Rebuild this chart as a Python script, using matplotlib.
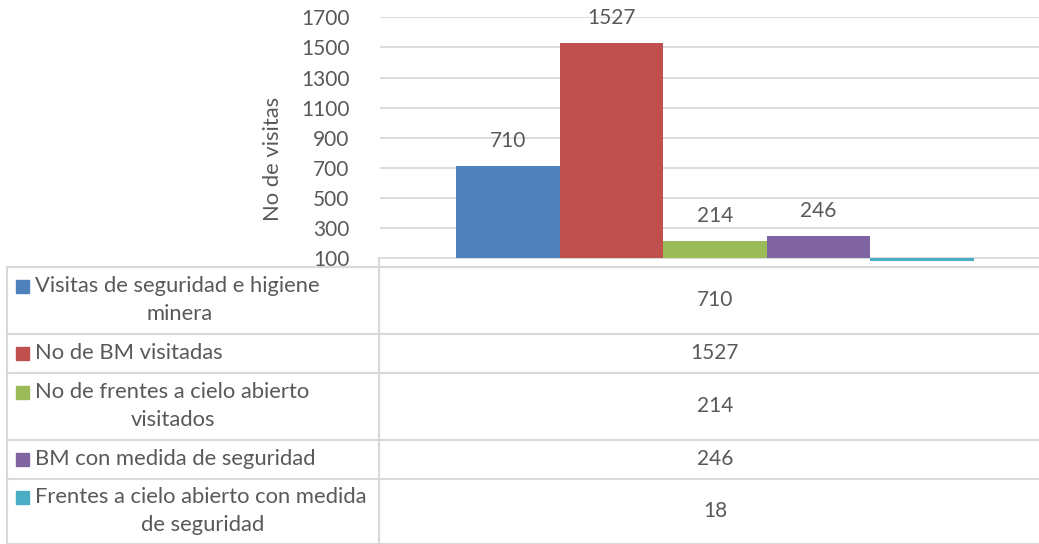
import matplotlib
matplotlib.use("Agg")
import matplotlib.pyplot as plt
from matplotlib.lines import Line2D
import numpy as np

series = ["Visitas de seguridad e higiene minera",
          "No de BM visitadas",
          "No de frentes a cielo abierto visitados",
          "BM con medida de seguridad",
          "Frentes a cielo abierto con medida de seguridad"]
# how each legend label wraps inside the data table
label_lines = [["Visitas de seguridad e higiene", "minera"],
               ["No de BM visitadas"],
               ["No de frentes a cielo abierto", "visitados"],
               ["BM con medida de seguridad"],
               ["Frentes a cielo abierto con medida", "de seguridad"]]
values = [710, 1527, 214, 246, 18]
colors = ["#4F81BD", "#C0504D", "#9BBB59", "#8064A2", "#4BACC6"]
yticks = [100, 300, 500, 700, 900, 1100, 1300, 1500, 1700]
ylabel = "No de visitas"

plt.rcParams['font.family'] = ['Lato', 'DejaVu Sans']
txt = "#595959"
grid = "#D9D9D9"
fs = 15.8
fsn = 15

W, H = 1039, 544
fig = plt.figure(figsize=(W / 100, H / 100), dpi=100)

def fx(px):
    return px / W

def fy(py):
    return 1 - py / H

ax_l, ax_r, ax_t, ax_b = 380, 1050, 17.3, 260.8
ax = fig.add_axes([fx(ax_l), fy(ax_b), fx(ax_r - ax_l), (ax_b - ax_t) / H])
ymin = 100 - (ax_b - 258.3) / 30.1 * 200
ax.set_ylim(ymin, 1700)
ax.set_xlim(-0.5, 0.5)

w = 0.1545
xs = (np.arange(len(values)) - 2) * w
ax.bar(xs, np.array(values) - 100, bottom=100, width=w, color=colors, zorder=3)
for x, v in zip(xs, values):
    if v >= 100:
        ax.annotate(str(v), (x, v), xytext=(0, 18), textcoords="offset points",
                    ha="center", va="center", fontsize=fsn, color=txt)

ax.set_yticks(yticks)
ax.set_yticklabels([str(t) for t in yticks], fontsize=fsn, color=txt)
ax.tick_params(axis="y", length=0, pad=22)
ax.set_xticks([])
for t in yticks:
    ax.axhline(t, color=grid, lw=1.3, zorder=1)
for s in ax.spines.values():
    s.set_visible(False)
ax.set_ylabel(ylabel, fontsize=fs, color=txt)
ax.yaxis.set_label_coords(-0.145, 0.42)

# data table below the plot
row_edges = [266.7, 334, 372.5, 440, 478.5, 543.5]
tl, tdiv = 7, 379
for y in row_edges:
    fig.add_artist(Line2D([fx(tl), 1], [fy(y), fy(y)], color=grid, lw=1.5))
fig.add_artist(Line2D([fx(tl), fx(tl)], [fy(row_edges[0]), fy(row_edges[-1])], color=grid, lw=1.5))
fig.add_artist(Line2D([fx(tdiv), fx(tdiv)], [fy(row_edges[0]), fy(row_edges[-1])], color=grid, lw=1.5))
fig.add_artist(Line2D([fx(tdiv), fx(tdiv)], [fy(258.3), fy(row_edges[0])], color=grid, lw=1.5))

second_x = [180, None, 173, None, 203]
for i, lines in enumerate(label_lines):
    top, bot = row_edges[i], row_edges[i + 1]
    mid = (top + bot) / 2
    if len(lines) == 2:
        y1, y2 = mid - 14, mid + 14
    else:
        y1 = mid
    fig.add_artist(plt.Rectangle((fx(16), fy(y1 + 6.5)), fx(13), 13 / H,
                                 color=colors[i], transform=fig.transFigure))
    fig.text(fx(35), fy(y1), lines[0], fontsize=fs, color=txt, ha="left", va="center")
    if len(lines) == 2:
        fig.text(fx(second_x[i]), fy(y2), lines[1], fontsize=fs, color=txt,
                 ha="center", va="center")
    fig.text(fx(715), fy(mid), str(values[i]), fontsize=fsn, color=txt,
             ha="center", va="center")

fig.savefig("out.png", dpi=100)
